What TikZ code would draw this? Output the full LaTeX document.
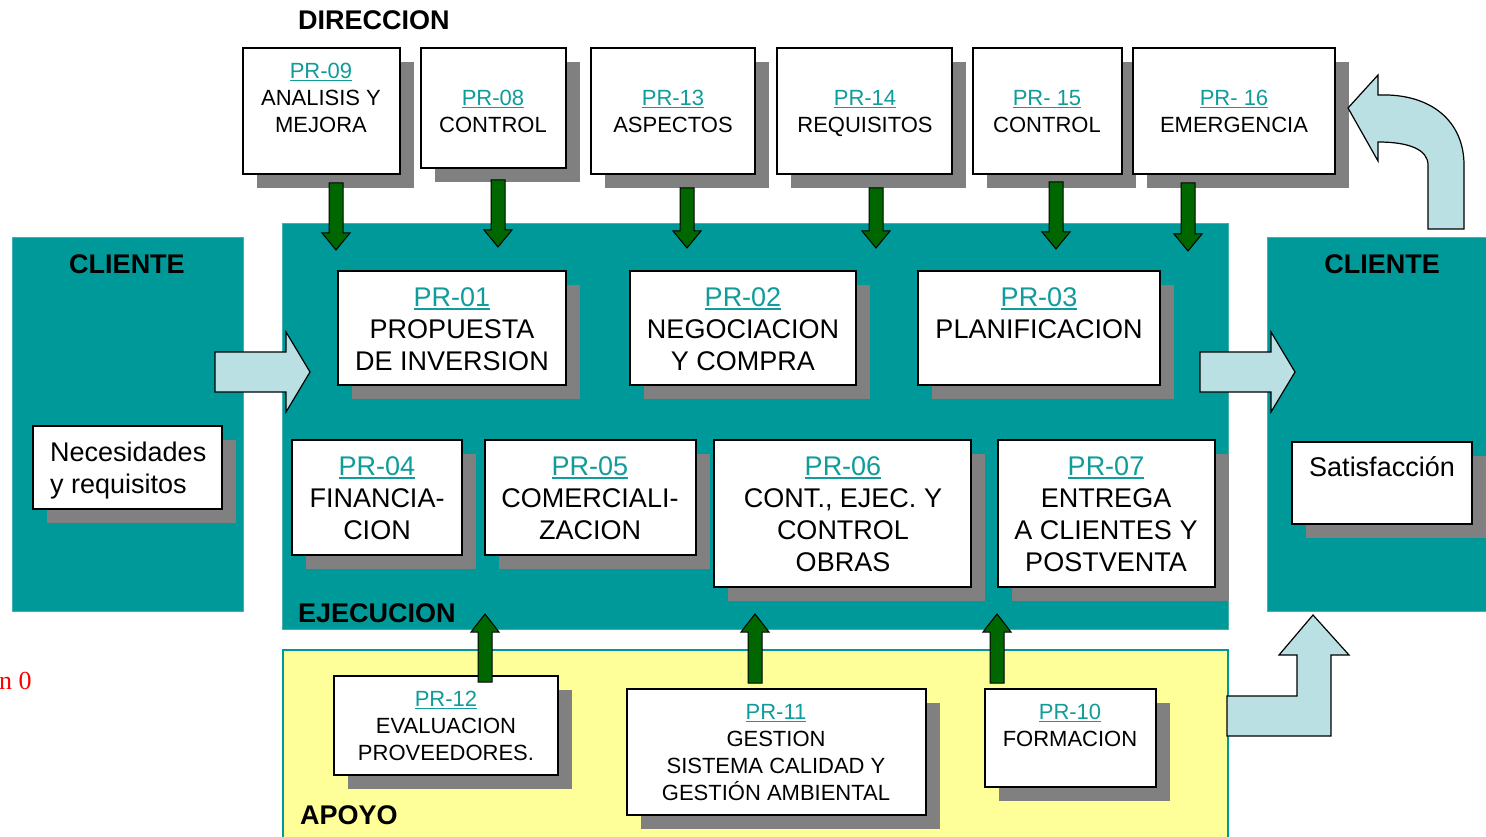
\documentclass[tikz,border=0pt]{standalone}
\usepackage{fontspec}
\setmainfont{Liberation Sans}
\newfontfamily\seriffont{Liberation Serif}
\definecolor{panelteal}{HTML}{009999}
\definecolor{paneledge}{HTML}{40B0B0}
\definecolor{linkteal}{HTML}{119C9C}
\definecolor{lightblue}{HTML}{BBE0E3}
\definecolor{darkgreen}{HTML}{006600}
\definecolor{shadowgray}{HTML}{808080}
\definecolor{paleyellow}{HTML}{FFFF99}
\newcommand\prl[1]{\textcolor{linkteal}{\setbox0\hbox{#1}\rlap{\rule[-0.13em]{\wd0}{0.06em}}\box0}}
\newcommand\pbox[5]{%
  \fill[shadowgray] ({#2+14},{#3+14}) rectangle ({#4+14},{#5+14});
  \node[wbox, anchor=north west, minimum width={(#4-#2)*1pt}, minimum height={(#5-#3)*1pt}] (#1) at (#2,#3) {};
}
\newcommand\garrowdown[3]{\filldraw[garrow] ({#1-7},#2) -- ({#1+7},#2) -- ({#1+7},{#3-17}) -- ({#1+14},{#3-17}) -- (#1,#3) -- ({#1-14},{#3-17}) -- ({#1-7},{#3-17}) -- cycle;}
\newcommand\garrowup[3]{\filldraw[garrow] ({#1-7},#3) -- ({#1+7},#3) -- ({#1+7},{#2+18}) -- ({#1+14},{#2+18}) -- (#1,#2) -- ({#1-14},{#2+18}) -- ({#1-7},{#2+18}) -- cycle;}
\tikzset{
  panel/.style={fill=panelteal, draw=paneledge, line width=0.8pt},
  apoyo/.style={fill=paleyellow, draw=panelteal, line width=1.2pt},
  wbox/.style={draw=black, fill=white, line width=1.3pt, inner sep=0pt, outer sep=0pt},
  garrow/.style={fill=darkgreen, draw=black, line width=1pt, line join=miter},
  barrow/.style={fill=lightblue, draw=black, line width=1.2pt, line join=miter},
  txtS/.style={font=\fontsize{22}{27}\selectfont, align=center, inner sep=0pt},
  txtL/.style={font=\fontsize{27}{32}\selectfont, align=center, inner sep=0pt},
  head/.style={font=\fontsize{27}{32}\selectfont\bfseries, inner sep=0pt},
}
\begin{document}
\begin{tikzpicture}[x=1pt, y=-1pt]
\useasboundingbox (0,0) rectangle (1486,837);
% panels
\draw[panel] (12,237) rectangle (243,611);
\draw[panel] (282,223) rectangle (1228,629);
\draw[panel] (1267,237) rectangle (1490,611);
\draw[apoyo] (283,650) rectangle (1228,842);
% headings
\node[head, anchor=west] (hdir) at (298,20) {DIRECCION};
\node[head] (hcl) at (127,264) {CLIENTE};
\node[head] (hcr) at (1382,264) {CLIENTE};
\node[head, anchor=west] (heje) at (298,613) {EJECUCION};
\node[head, anchor=west] (hapo) at (300,815) {APOYO};
% direction boxes
\pbox{pr09}{243}{48}{400}{174}
\pbox{pr08}{421}{48}{566}{168}
\pbox{pr13}{591}{48}{755}{174}
\pbox{pr14}{777}{48}{952}{174}
\pbox{pr15}{973}{48}{1122}{174}
\pbox{pr16}{1133}{48}{1335}{174}
\node[txtS] (t09) at (321,98) {\prl{PR-09}\\ANALISIS Y\\MEJORA};
\node[txtS] (t08) at (493,111.5) {\prl{PR-08}\\CONTROL};
\node[txtS] (t13) at (673,111.5) {\prl{PR-13}\\ASPECTOS};
\node[txtS] (t14) at (865,113.5) {\prl{PR-14}\\REQUISITOS};
\node[txtS] (t15) at (1047,111.5) {\prl{PR- 15}\\CONTROL};
\node[txtS] (t16) at (1234,111.5) {\prl{PR- 16}\\EMERGENCIA};
% execution boxes
\pbox{pr01}{338}{271}{566}{385}
\pbox{pr02}{630}{271}{856}{385}
\pbox{pr03}{918}{271}{1160}{385}
\pbox{pr04}{292}{440}{462}{555}
\pbox{pr05}{485}{440}{696}{555}
\pbox{pr06}{714}{440}{971}{587}
\pbox{pr07}{998}{440}{1215}{587}
\node[txtL] (t01) at (452,329) {\prl{PR-01}\\PROPUESTA\\DE INVERSION};
\node[txtL] (t02) at (743,329) {\prl{PR-02}\\NEGOCIACION\\Y COMPRA};
\node[txtL] (t03) at (1039,313) {\prl{PR-03}\\PLANIFICACION};
\node[txtL] (t04) at (377,498) {\prl{PR-04}\\FINANCIA-\\CION};
\node[txtL] (t05) at (590,498) {\prl{PR-05}\\COMERCIALI-\\ZACION};
\node[txtL] (t06) at (843,514) {\prl{PR-06}\\CONT., EJEC. Y\\CONTROL\\OBRAS};
\node[txtL] (t07) at (1106,514) {\prl{PR-07}\\ENTREGA\\A CLIENTES Y\\POSTVENTA};
% client boxes
\pbox{nec}{33}{426}{222}{509}
\pbox{sat}{1292}{442}{1472}{524}
\node[txtL, align=left, anchor=west] (tnec) at (50,471) {Necesidades\\y requisitos};
\node[txtL] (tsat) at (1382,467) {Satisfacción};
% support boxes
\pbox{pr12}{334}{676}{558}{775}
\pbox{pr11}{627}{689}{926}{815}
\pbox{pr10}{985}{689}{1156}{787}
\node[txtS] (t12) at (446,726) {\prl{PR-12}\\EVALUACION\\PROVEEDORES.};
\node[txtS] (t11) at (776,752.5) {\prl{PR-11}\\GESTION\\SISTEMA CALIDAD Y\\GESTIÓN AMBIENTAL};
\node[txtS] (t10) at (1070,725) {\prl{PR-10}\\FORMACION};
% green arrows
\garrowdown{336}{183}{250}
\garrowdown{498}{180}{247}
\garrowdown{687}{188}{248}
\garrowdown{876}{188}{248}
\garrowdown{1056}{182}{249}
\garrowdown{1188}{183}{251}
\garrowup{485}{614}{682}
\garrowup{755}{614}{683}
\garrowup{997}{614}{683}
% light blue arrows
\draw[barrow] (215,352) -- (286,352) -- (286,332) -- (310,372) -- (286,412) -- (286,392) -- (215,392) -- cycle;
\draw[barrow] (1200,352) -- (1271,352) -- (1271,332) -- (1295,372) -- (1271,412) -- (1271,392) -- (1200,392) -- cycle;
\draw[barrow] (1227,696) -- (1297,696) -- (1297,655) -- (1279,655) -- (1313,615) -- (1349,655) -- (1331,655) -- (1331,736) -- (1227,736) -- cycle;
\draw[barrow] (1378,95) .. controls (1432,93) and (1464,122) .. (1464,165) -- (1464,229) -- (1428,229) -- (1428,165) .. controls (1428,150) and (1410,142) .. (1378,142) -- (1378,161) -- (1348,108) -- (1378,75) -- cycle;
% stray text
\node[font=\seriffont\fontsize{26}{30}\selectfont, text=red, anchor=base west, inner sep=0pt] (n0) at (-1,689) {n 0};
\end{tikzpicture}
\end{document}
